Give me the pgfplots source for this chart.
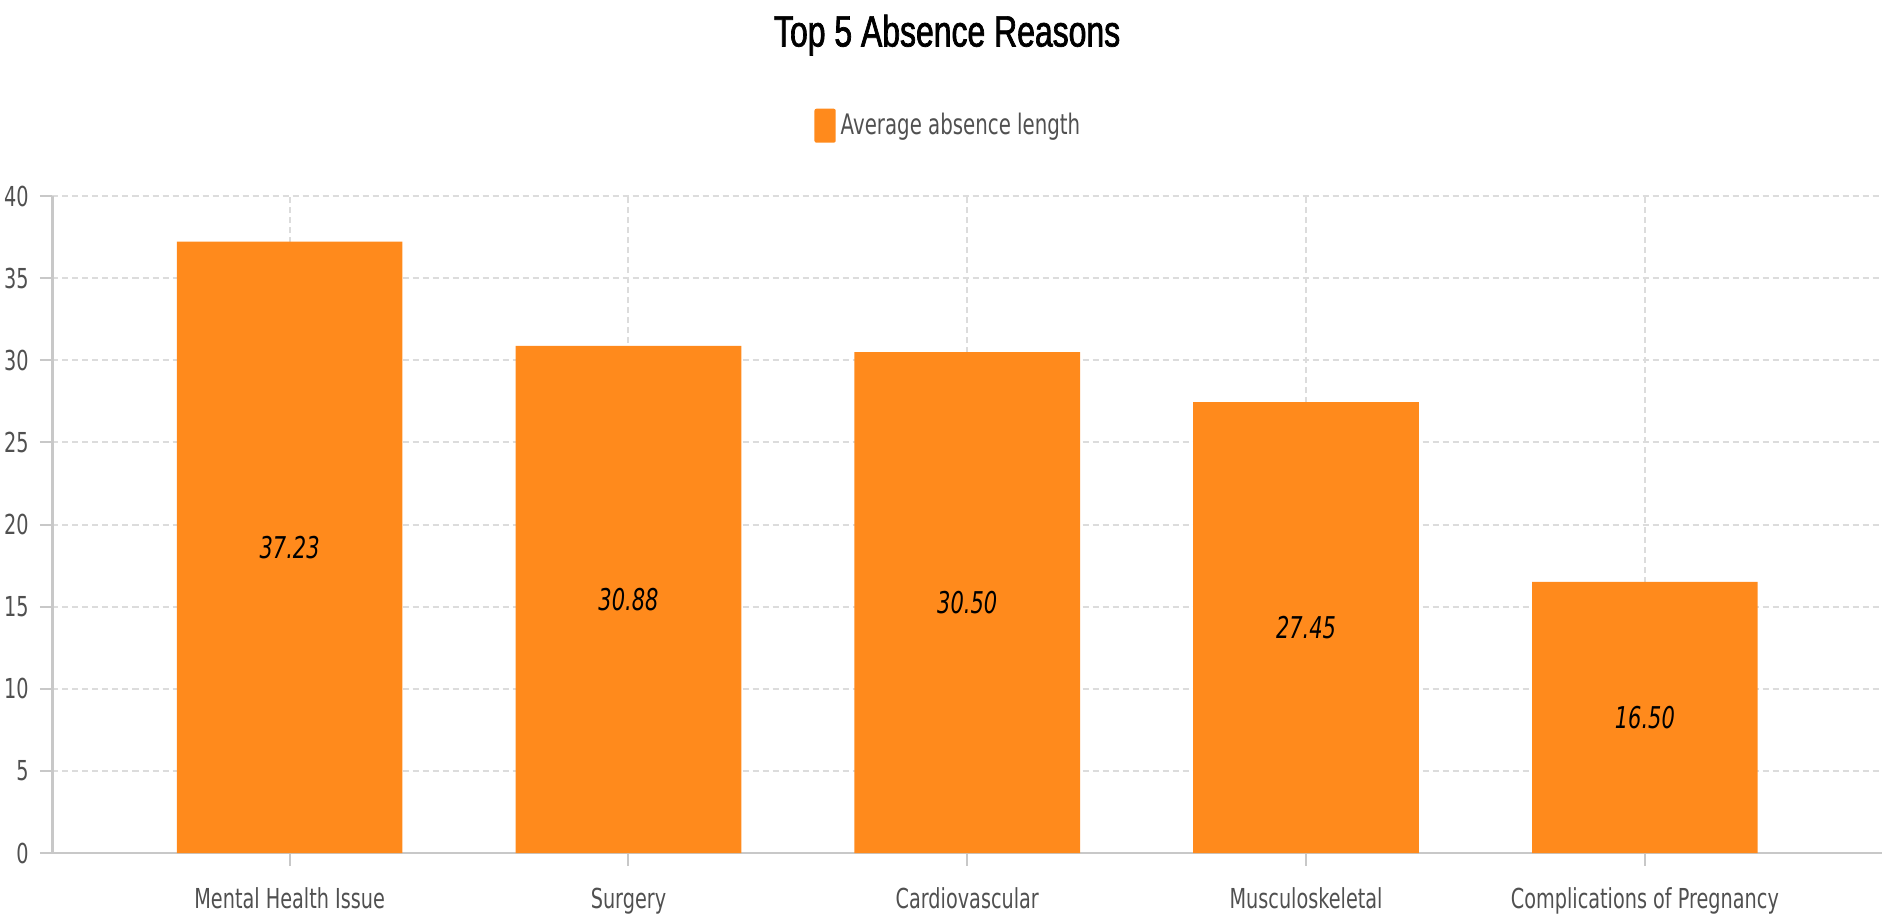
\documentclass[border=0pt]{standalone}
\usepackage{fontspec}
\setmainfont{DejaVu Sans}[FakeStretch=0.7]
\newfontfamily\titlefont{Liberation Sans}[FakeStretch=0.73, FakeBold=1.6]
\usepackage{pgfplots}
\pgfplotsset{compat=1.18}
\usepackage{pgfplotstable}

\definecolor{barorange}{HTML}{FF8A1C}
\definecolor{gridgray}{HTML}{DCDCDC}
\definecolor{axisgray}{HTML}{C8C8C8}
\definecolor{labelgray}{HTML}{505050}

% average absence length per reason (days)
\pgfplotstableread{
x v
0 37.23
1 30.88
2 30.50
3 27.45
4 16.50
}\absence

\begin{document}
\begin{tikzpicture}
\path[use as bounding box] (0,0) rectangle (759.2pt,367.6pt);
\begin{axis}[
  at={(21pt,26.4pt)}, anchor=south west, scale only axis,
  width=731.8pt, height=262.8pt,
  xmin=-0.7, xmax=4.7, ymin=0, ymax=40,
  xtick={0,1,2,3,4},
  xticklabels={Mental Health Issue, Surgery, Cardiovascular, Musculoskeletal, Complications of Pregnancy},
  ytick={0,5,...,40},
  axis x line*=bottom, axis y line*=left,
  axis line style={axisgray, line width=1pt, -},
  tick align=outside, major tick length=5pt,
  tick style={axisgray, line width=0.8pt},
  grid=major,
  major grid style={gridgray, dash pattern=on 2.4pt off 1.6pt, line width=0.8pt},
  /pgf/number format/assume math mode=true,
  tick label style={font=\fontsize{11}{13}\selectfont, text=labelgray},
  xticklabel style={yshift=-5.5pt},
  yticklabel style={xshift=-1pt},
  title={\titlefont\fontsize{17.5}{20}\selectfont Top 5 Absence Reasons},
  title style={at={(0.489,1.222)}, anchor=center},
  legend style={at={(0.4905,1.107)}, anchor=center, draw=none, fill=none,
    font=\fontsize{11.3}{13}\selectfont, text=labelgray,
    /tikz/every even column/.append style={column sep=0pt}},
  legend image code/.code={\fill[barorange, rounded corners=0.8pt] (0pt,-6.8pt) rectangle (8.5pt,6.8pt);},
]
\addplot[ybar, bar width=0.666, fill=barorange, draw=none] table[x=x, y=v]{\absence};
\addlegendentry{Average absence length}
\addplot[draw=none, mark=none, forget plot,
  point meta=explicit,
  nodes near coords={\pgfmathprintnumber[fixed, fixed zerofill, precision=2, assume math mode=true]{\pgfplotspointmeta}},
  nodes near coords style={anchor=center, font=\itshape\fontsize{12}{14}\selectfont, text=black}]
  table[x=x, y expr=\thisrow{v}/2, meta=v]{\absence};
\end{axis}
\end{tikzpicture}
\end{document}
